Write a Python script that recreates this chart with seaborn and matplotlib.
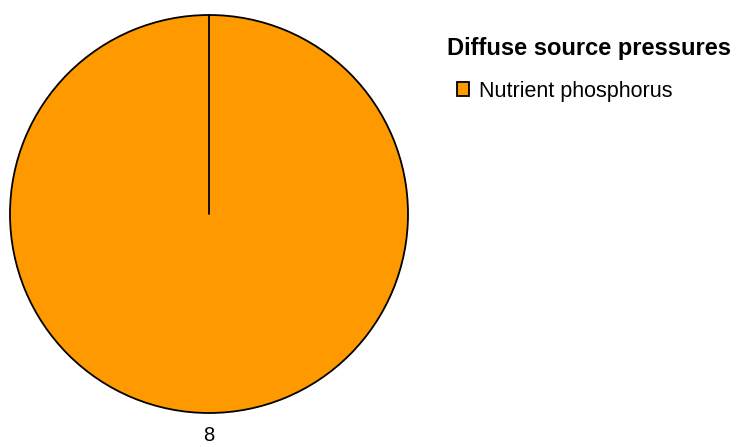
import numpy as np
import matplotlib.pyplot as plt
import matplotlib.patches as mpatches
import seaborn as sns

# --- Data ---
categories = ["Nutrient phosphorus"]
values = [8]
colors = ["#ff9900"]
legend_title = "Diffuse source pressures"

# --- Style ---
sns.set_style("white")
plt.rcParams["font.family"] = ["Liberation Sans", "DejaVu Sans"]
plt.rcParams["text.color"] = "black"

W, H = 737, 447
fig = plt.figure(figsize=(W / 100, H / 100), dpi=100)
fig.patch.set_facecolor("white")

# pie centred at ~(209, 214) px, radius ~199 px
cx, cy, r = 209, 214, 199
ax = fig.add_axes([(cx - r) / W, (H - cy - r) / H, 2 * r / W, 2 * r / H])

wedges, texts = ax.pie(
    values,
    labels=[str(v) for v in values],
    colors=colors,
    startangle=90,
    counterclock=False,
    labeldistance=1.115,
    radius=1,
    wedgeprops=dict(edgecolor="black", linewidth=1.3, clip_on=False),
    textprops=dict(fontsize=14.5, color="black"),
)
for t in texts:
    t.set_ha("center")
    t.set_va("center")
ax.set_xlim(-1, 1)
ax.set_ylim(-1, 1)
ax.set_aspect("equal")
ax.axis("off")

# a single full wedge has no radial edge; draw the seam from its start angle
for w in wedges:
    a = np.deg2rad(w.theta1)
    ax.plot([w.center[0], w.center[0] + w.r * np.cos(a)],
            [w.center[1], w.center[1] + w.r * np.sin(a)],
            color="black", linewidth=1.3, clip_on=False)

# --- Legend ---
fig.text(447 / W, 1 - 48 / H, legend_title, fontsize=17, fontweight="bold",
         ha="left", va="center")
handles = [mpatches.Patch(facecolor=c, edgecolor="black", linewidth=1.3) for c in colors]
leg = fig.legend(
    handles, categories,
    loc="center left",
    bbox_to_anchor=(457 / W, 1 - 91 / H),
    frameon=False,
    fontsize=15.5,
    handlelength=0.58,
    handleheight=0.58,
    handletextpad=0.42,
    borderpad=0,
    borderaxespad=0,
)

plt.savefig("out.png", dpi=100)
